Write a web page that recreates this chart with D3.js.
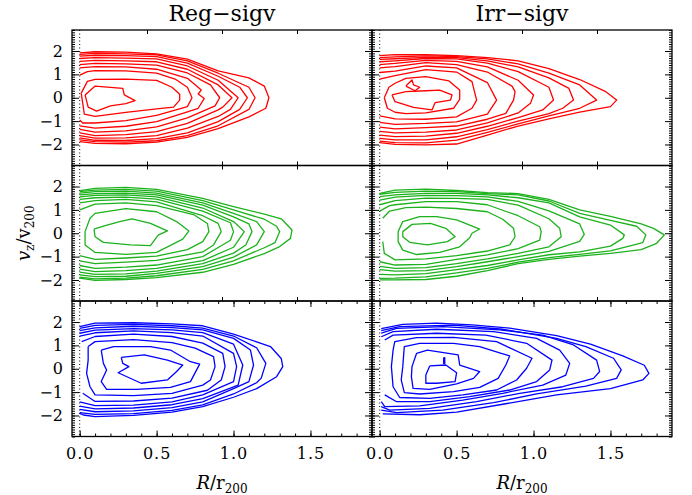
<!DOCTYPE html>
<html>
<head>
<meta charset="utf-8">
<script src="https://cdn.jsdelivr.net/npm/d3@7"></script>
<style>
  body { margin: 0; background: #fff; }
  text { font-family: "DejaVu Serif", serif; fill: #000; }
</style>
</head>
<body>
<div id="chart"></div>
<script>
var svgWidth = 692;
var svgHeight = 495;

var margin = { top: 30, left: 72 };
var panelWidth = 300;
var panelHeight = 135.5;

// column titles and row colours
var columnTitles = ["Reg\u2212sigv", "Irr\u2212sigv"];
var rowColors = ["#ff0000", "#1cb21c", "#0000ff"];

// tick values
var xTicks = [0.0, 0.5, 1.0, 1.5];
var xTicksUpper = [0.5, 1.0, 1.5];
var yTicks = [-2, -1, 0, 1, 2];

// contour lines, points are [R/r200, vz/v200]
var regRed = [
  [[0.035,0.12],[0.10,0.50],[0.28,0.40],[0.29,0.12],[0.36,-0.12],[0.30,-0.25],[0.20,-0.35],[0.11,-0.57],[0.055,-0.40],[0.035,0.12]],
  [[0.01,0.20],[0.05,0.70],[0.10,0.79],[0.30,0.80],[0.50,0.74],[0.60,0.45],[0.65,0.15],[0.65,-0.10],[0.61,-0.40],[0.50,-0.48],[0.30,-0.63],[0.10,-0.80],[0.03,-0.70],[0.01,0.20]],
  [[0,0.97],[0.05,1.12],[0.1,1.16],[0.3,1.15],[0.5,1.05],[0.62,0.80],[0.7,0.45],[0.73,0],[0.70,-0.38],[0.5,-0.75],[0.3,-0.98],[0.1,-1.08],[0.02,-1.08],[0,-0.95]],
  [[0,1.28],[0.1,1.33],[0.3,1.32],[0.5,1.22],[0.7,0.83],[0.76,0.50],[0.79,0.33],[0.77,0.16],[0.81,-0.03],[0.77,-0.45],[0.7,-0.60],[0.5,-1.02],[0.3,-1.22],[0.1,-1.30],[0,-1.20]],
  [[0,1.42],[0.1,1.47],[0.3,1.45],[0.5,1.40],[0.7,1.06],[0.85,0.55],[0.91,0],[0.88,-0.35],[0.7,-0.86],[0.5,-1.25],[0.3,-1.42],[0.1,-1.47],[0,-1.35]],
  [[0,1.56],[0.1,1.60],[0.3,1.58],[0.5,1.54],[0.7,1.22],[0.9,0.55],[0.99,0],[0.93,-0.40],[0.9,-0.52],[0.7,-1.10],[0.5,-1.45],[0.3,-1.58],[0.1,-1.62],[0,-1.50]],
  [[0,1.68],[0.1,1.72],[0.3,1.70],[0.5,1.66],[0.7,1.36],[0.9,0.75],[1.03,0],[0.98,-0.50],[0.9,-0.80],[0.7,-1.30],[0.5,-1.62],[0.3,-1.72],[0.1,-1.73],[0,-1.62]],
  [[0,1.78],[0.1,1.82],[0.3,1.80],[0.5,1.76],[0.7,1.48],[0.9,0.92],[1.04,0.45],[1.09,0],[1.04,-0.50],[0.9,-1.02],[0.7,-1.50],[0.5,-1.75],[0.3,-1.83],[0.1,-1.82],[0,-1.72]],
  [[0,1.86],[0.1,1.90],[0.3,1.88],[0.5,1.84],[0.7,1.58],[0.9,1.05],[1.1,0.45],[1.14,0],[1.1,-0.50],[0.9,-1.20],[0.7,-1.62],[0.5,-1.84],[0.3,-1.90],[0.1,-1.88],[0,-1.80]],
  [[0,1.92],[0.1,1.97],[0.3,1.95],[0.5,1.88],[0.7,1.65],[0.9,1.15],[1.1,0.85],[1.2,0.50],[1.23,0],[1.21,-0.45],[1.1,-0.82],[0.9,-1.32],[0.7,-1.70],[0.5,-1.90],[0.3,-1.97],[0.1,-1.95],[0,-1.88]]
];

var irrRed = [
  [[0.08,0.12],[0.17,0.26],[0.30,0.30],[0.39,0.33],[0.47,0.12],[0.46,-0.10],[0.36,-0.21],[0.34,-0.52],[0.22,-0.41],[0.10,-0.17],[0.08,0.12]],
  [[0.17,0.50],[0.21,0.76],[0.22,0.55],[0.26,0.45],[0.23,0.30],[0.17,0.50]],
  [[0.03,0],[0.06,0.45],[0.1,0.62],[0.17,0.83],[0.3,0.90],[0.45,0.72],[0.52,0.33],[0.52,-0.07],[0.48,-0.45],[0.3,-0.65],[0.17,-0.68],[0.1,-0.62],[0.05,-0.45],[0.03,0]],
  [[0,0.80],[0.1,0.95],[0.3,1.20],[0.5,1.10],[0.6,0.69],[0.63,-0.10],[0.6,-0.45],[0.5,-0.82],[0.3,-0.92],[0.1,-0.90],[0,-0.78]],
  [[0,1.08],[0.1,1.14],[0.3,1.36],[0.5,1.28],[0.7,0.65],[0.76,-0.10],[0.7,-0.70],[0.5,-1.03],[0.3,-1.10],[0.1,-1.14],[0,-1.05]],
  [[0,1.28],[0.1,1.33],[0.3,1.50],[0.5,1.42],[0.7,1.10],[0.86,0.50],[0.88,0.26],[0.87,-0.10],[0.82,-0.67],[0.7,-0.92],[0.5,-1.21],[0.3,-1.28],[0.1,-1.33],[0,-1.26]],
  [[0,1.42],[0.1,1.47],[0.3,1.60],[0.5,1.56],[0.7,1.32],[0.9,0.75],[1.0,0.12],[0.98,-0.24],[0.9,-0.65],[0.7,-1.08],[0.5,-1.38],[0.3,-1.47],[0.1,-1.50],[0,-1.44]],
  [[0,1.54],[0.1,1.58],[0.3,1.68],[0.5,1.66],[0.7,1.48],[0.9,1.12],[1.1,0.45],[1.13,-0.10],[1.06,-0.52],[0.9,-0.85],[0.7,-1.22],[0.5,-1.52],[0.3,-1.64],[0.1,-1.66],[0,-1.60]],
  [[0,1.64],[0.1,1.67],[0.3,1.73],[0.5,1.72],[0.7,1.58],[0.9,1.32],[1.1,0.85],[1.23,0.40],[1.26,-0.10],[1.19,-0.45],[1.1,-0.68],[0.9,-1.0],[0.7,-1.36],[0.5,-1.67],[0.3,-1.80],[0.1,-1.80],[0,-1.74]],
  [[0,1.72],[0.1,1.75],[0.3,1.79],[0.5,1.76],[0.7,1.66],[0.9,1.45],[1.1,1.05],[1.3,0.55],[1.41,-0.10],[1.3,-0.45],[1.1,-0.78],[0.9,-1.12],[0.7,-1.48],[0.5,-1.81],[0.3,-1.93],[0.1,-1.92],[0,-1.86]],
  [[0,1.80],[0.1,1.85],[0.3,1.84],[0.5,1.80],[0.7,1.72],[0.9,1.58],[1.1,1.25],[1.3,0.78],[1.47,0.26],[1.54,-0.10],[1.50,-0.38],[1.3,-0.62],[1.1,-0.90],[0.9,-1.21],[0.7,-1.60],[0.5,-1.98],[0.3,-2.02],[0.1,-2.0],[0,-1.92]]
];

var regGreen = [
  [[0.093,0.18],[0.154,0.30],[0.26,0.50],[0.34,0.62],[0.46,0.42],[0.57,0.10],[0.51,-0.08],[0.46,-0.53],[0.33,-0.50],[0.154,-0.39],[0.10,-0.15],[0.093,0.18]],
  [[0.035,0.07],[0.067,0.64],[0.1,0.85],[0.3,1.05],[0.5,0.92],[0.63,0.50],[0.71,0.10],[0.67,-0.25],[0.5,-0.82],[0.3,-0.90],[0.1,-0.82],[0.035,-0.50],[0.035,0.07]],
  [[0,1.0],[0.1,1.25],[0.3,1.30],[0.5,1.18],[0.74,0.80],[0.83,0.42],[0.84,0.07],[0.80,-0.36],[0.7,-0.70],[0.5,-0.98],[0.3,-1.06],[0.1,-1.12],[0,-0.96]],
  [[0,1.30],[0.1,1.40],[0.3,1.45],[0.5,1.34],[0.8,0.75],[0.9,0.42],[0.92,0.07],[0.87,-0.50],[0.8,-0.80],[0.5,-1.16],[0.3,-1.24],[0.1,-1.30],[0,-1.18]],
  [[0,1.45],[0.1,1.52],[0.3,1.55],[0.5,1.46],[0.8,0.95],[0.98,0.45],[1.0,0.07],[0.98,-0.30],[0.8,-1.0],[0.5,-1.36],[0.3,-1.45],[0.1,-1.50],[0,-1.38]],
  [[0,1.56],[0.1,1.62],[0.3,1.64],[0.5,1.56],[0.8,1.08],[1.0,0.50],[1.07,0.07],[1.0,-0.60],[0.8,-1.17],[0.5,-1.50],[0.3,-1.60],[0.1,-1.64],[0,-1.54]],
  [[0,1.64],[0.1,1.70],[0.3,1.72],[0.5,1.64],[0.8,1.20],[1.0,0.70],[1.1,0.40],[1.12,0.07],[1.08,-0.50],[1.0,-0.85],[0.8,-1.30],[0.5,-1.62],[0.3,-1.74],[0.1,-1.76],[0,-1.66]],
  [[0,1.72],[0.1,1.78],[0.3,1.80],[0.5,1.72],[0.8,1.30],[1.0,0.85],[1.15,0.50],[1.20,0.07],[1.15,-0.50],[1.0,-1.02],[0.8,-1.43],[0.5,-1.72],[0.3,-1.84],[0.1,-1.86],[0,-1.78]],
  [[0,1.78],[0.1,1.85],[0.3,1.88],[0.5,1.80],[0.8,1.40],[1.0,1.0],[1.2,0.60],[1.28,0.30],[1.30,0.07],[1.27,-0.40],[1.2,-0.62],[1.0,-1.18],[0.8,-1.55],[0.5,-1.82],[0.3,-1.92],[0.1,-1.95],[0,-1.88]],
  [[0,1.82],[0.1,1.92],[0.3,1.96],[0.5,1.88],[0.8,1.49],[1.0,1.14],[1.2,0.82],[1.31,0.62],[1.38,0.14],[1.37,-0.22],[1.30,-0.57],[1.2,-0.87],[1.0,-1.33],[0.8,-1.67],[0.5,-1.90],[0.3,-1.98],[0.1,-2.02],[0,-1.92]]
];

var irrGreen = [
  [[0.15,0.07],[0.21,0.38],[0.33,0.42],[0.43,0.21],[0.49,-0.15],[0.44,-0.36],[0.31,-0.50],[0.195,-0.39],[0.15,-0.15],[0.15,0.07]],
  [[0.12,0.07],[0.15,0.50],[0.26,0.71],[0.37,0.71],[0.50,0.57],[0.65,0.18],[0.60,0],[0.585,-0.19],[0.52,-0.58],[0.39,-0.82],[0.24,-0.91],[0.15,-0.72],[0.12,-0.36],[0.12,0.07]],
  [[0.02,0.64],[0.065,0.95],[0.17,1.10],[0.3,1.12],[0.5,1.06],[0.7,0.92],[0.8,0.60],[0.87,0.21],[0.88,-0.15],[0.845,-0.50],[0.7,-0.76],[0.5,-0.96],[0.3,-1.10],[0.1,-1.14],[0.03,-0.86],[0.02,-0.36]],
  [[0,0.95],[0.065,1.18],[0.1,1.22],[0.3,1.35],[0.5,1.35],[0.7,1.22],[0.9,0.75],[1.04,0.28],[1.05,0.07],[1.04,-0.29],[0.9,-0.66],[0.7,-0.93],[0.5,-1.12],[0.3,-1.33],[0.1,-1.36],[0,-1.22]],
  [[0,1.22],[0.1,1.40],[0.3,1.50],[0.5,1.49],[0.7,1.45],[0.9,1.20],[1.1,0.62],[1.17,0.21],[1.18,-0.15],[1.1,-0.58],[0.9,-0.86],[0.7,-1.10],[0.5,-1.30],[0.3,-1.47],[0.1,-1.50],[0,-1.42]],
  [[0,1.42],[0.1,1.55],[0.3,1.62],[0.5,1.61],[0.7,1.56],[0.9,1.36],[1.1,0.96],[1.3,0.40],[1.33,-0.05],[1.3,-0.35],[1.1,-0.78],[0.9,-1.0],[0.7,-1.22],[0.5,-1.43],[0.3,-1.60],[0.1,-1.62],[0,-1.56]],
  [[0,1.57],[0.1,1.64],[0.3,1.71],[0.5,1.71],[0.7,1.64],[0.9,1.52],[1.1,1.30],[1.3,0.70],[1.5,0.35],[1.59,-0.07],[1.58,-0.22],[1.5,-0.55],[1.3,-0.80],[1.1,-0.92],[0.9,-1.14],[0.7,-1.38],[0.5,-1.56],[0.3,-1.73],[0.1,-1.78],[0,-1.76]],
  [[0,1.67],[0.1,1.75],[0.3,1.80],[0.5,1.78],[0.7,1.70],[0.9,1.64],[1.1,1.38],[1.3,0.85],[1.5,0.55],[1.67,0.30],[1.73,-0.07],[1.71,-0.40],[1.5,-0.75],[1.3,-0.90],[1.1,-1.04],[0.9,-1.24],[0.7,-1.50],[0.5,-1.70],[0.3,-1.87],[0.1,-1.92],[0,-1.93]],
  [[0,1.71],[0.1,1.85],[0.3,1.89],[0.5,1.83],[0.7,1.74],[0.9,1.70],[1.1,1.45],[1.3,1.0],[1.5,0.72],[1.7,0.40],[1.78,0.21],[1.85,-0.07],[1.80,-0.43],[1.7,-0.70],[1.5,-0.86],[1.3,-0.98],[1.1,-1.12],[0.9,-1.30],[0.7,-1.60],[0.5,-1.84],[0.3,-1.98],[0.1,-2.0],[0,-2.0]]
];

var regBlue = [
  [[0.27,0.49],[0.42,0.59],[0.57,0.37],[0.67,0.16],[0.63,-0.12],[0.57,-0.48],[0.40,-0.62],[0.25,-0.17],[0.32,0.09],[0.28,0.23],[0.27,0.49]],
  [[0.14,0.80],[0.22,0.95],[0.46,0.95],[0.59,0.80],[0.72,0.30],[0.78,0.20],[0.76,-0.05],[0.72,-0.55],[0.59,-0.80],[0.37,-0.88],[0.175,-0.88],[0.14,-0.55],[0.175,-0.05],[0.154,0.23],[0.14,0.80]],
  [[0.055,0.95],[0.1,1.16],[0.35,1.25],[0.6,1.12],[0.75,0.88],[0.87,0.52],[0.88,0.09],[0.85,-0.48],[0.8,-0.70],[0.6,-1.05],[0.35,-1.15],[0.1,-1.12],[0.067,-0.77],[0.045,-0.20],[0.055,0.37],[0.055,0.95]],
  [[0.013,1.16],[0.1,1.38],[0.35,1.48],[0.6,1.38],[0.8,1.10],[0.93,0.66],[0.945,0.09],[0.92,-0.48],[0.83,-0.92],[0.6,-1.26],[0.35,-1.38],[0.1,-1.40],[0.02,-1.05]],
  [[0,1.40],[0.1,1.54],[0.35,1.62],[0.6,1.55],[0.8,1.40],[1.0,0.66],[1.02,0.09],[1.0,-0.55],[0.8,-1.12],[0.6,-1.42],[0.35,-1.56],[0.1,-1.58],[0,-1.42]],
  [[0,1.52],[0.1,1.65],[0.35,1.72],[0.6,1.66],[0.8,1.55],[1.0,1.05],[1.06,0.16],[1.03,-0.70],[0.8,-1.28],[0.6,-1.54],[0.35,-1.68],[0.1,-1.72],[0,-1.60]],
  [[0,1.63],[0.1,1.75],[0.35,1.82],[0.6,1.76],[0.8,1.66],[1.0,1.30],[1.11,0.80],[1.13,0.16],[1.1,-0.55],[1.0,-0.85],[0.8,-1.42],[0.6,-1.66],[0.35,-1.80],[0.1,-1.84],[0,-1.74]],
  [[0,1.73],[0.1,1.86],[0.35,1.90],[0.6,1.84],[0.8,1.74],[1.0,1.40],[1.15,0.90],[1.21,0.23],[1.18,-0.40],[1.15,-0.60],[1.0,-1.08],[0.8,-1.55],[0.6,-1.78],[0.35,-1.92],[0.1,-1.95],[0,-1.88]],
  [[0,1.80],[0.1,1.95],[0.35,1.97],[0.6,1.92],[0.8,1.84],[1.0,1.48],[1.15,1.15],[1.24,0.95],[1.31,0.44],[1.32,0.09],[1.28,-0.34],[1.15,-0.85],[1.0,-1.22],[0.8,-1.62],[0.6,-1.86],[0.35,-2.0],[0.1,-2.05],[0.024,-1.98],[0,-1.91]]
];

var irrBlue = [
  [[0.325,0.12],[0.43,0.16],[0.50,-0.17],[0.49,-0.55],[0.37,-0.62],[0.30,-0.62],[0.30,-0.27],[0.325,0.12]],
  [[0.416,0.48],[0.423,0.48],[0.423,0.23],[0.416,0.23],[0.416,0.48]],
  [[0.21,0.09],[0.24,0.66],[0.31,0.80],[0.51,0.59],[0.52,0.16],[0.65,-0.12],[0.61,-0.41],[0.50,-0.65],[0.325,-0.88],[0.217,-0.84],[0.206,-0.34],[0.21,0.09]],
  [[0.15,0.09],[0.16,0.95],[0.26,1.09],[0.48,1.09],[0.65,0.95],[0.79,0.66],[0.845,0.55],[0.82,0.16],[0.77,-0.41],[0.65,-0.80],[0.48,-0.98],[0.26,-1.08],[0.16,-1.02],[0.14,-0.48],[0.15,0.09]],
  [[0.087,0.80],[0.098,1.16],[0.24,1.33],[0.48,1.34],[0.76,1.16],[0.99,0.45],[0.955,0.02],[0.89,-0.48],[0.76,-0.91],[0.54,-1.12],[0.325,-1.27],[0.13,-1.23],[0.087,-0.77],[0.076,0.09],[0.087,0.80]],
  [[0.033,1.23],[0.087,1.44],[0.37,1.52],[0.69,1.44],[0.955,1.09],[1.12,0.37],[1.105,-0.05],[1.02,-0.55],[0.845,-0.91],[0.585,-1.19],[0.325,-1.41],[0.11,-1.41],[0.033,-1.12]],
  [[0.01,1.37],[0.087,1.59],[0.37,1.69],[0.74,1.59],[1.02,1.30],[1.17,0.80],[1.235,0.23],[1.21,-0.27],[1.06,-0.70],[0.80,-1.05],[0.54,-1.34],[0.26,-1.59],[0.033,-1.62],[0.01,-1.41]],
  [[0.01,1.52],[0.11,1.73],[0.41,1.80],[0.78,1.66],[1.06,1.44],[1.26,1.02],[1.41,0.37],[1.43,-0.12],[1.39,-0.41],[1.19,-0.77],[0.91,-1.05],[0.63,-1.41],[0.325,-1.70],[0.065,-1.77],[0.01,-1.62]],
  [[0.01,1.63],[0.13,1.80],[0.48,1.87],[0.80,1.69],[1.15,1.30],[1.34,0.95],[1.52,0.45],[1.57,-0.05],[1.54,-0.41],[1.34,-0.74],[1.02,-1.08],[0.74,-1.45],[0.41,-1.77],[0.11,-1.88],[0.01,-1.77]],
  [[0.01,1.72],[0.15,1.90],[0.37,1.95],[0.6,1.88],[0.845,1.74],[1.15,1.42],[1.37,1.05],[1.58,0.55],[1.72,0.15],[1.75,-0.20],[1.71,-0.48],[1.50,-0.85],[1.15,-1.12],[0.80,-1.52],[0.50,-1.86],[0.26,-1.97],[0.02,-1.93]]
];

var panels = [
  { row: 0, col: 0, contours: regRed },
  { row: 0, col: 1, contours: irrRed },
  { row: 1, col: 0, contours: regGreen },
  { row: 1, col: 1, contours: irrGreen },
  { row: 2, col: 0, contours: regBlue },
  { row: 2, col: 1, contours: irrBlue }
];

var svg = d3.select("#chart")
  .append("svg")
  .attr("width", svgWidth)
  .attr("height", svgHeight);

// scales
var x = d3.scaleLinear().domain([-0.05, 1.9]).range([0, panelWidth]);
// the upper rows carry their frame ticks on a 0..2 axis
var xUpper = d3.scaleLinear().domain([0, 2]).range([0, panelWidth]);
var y = d3.scaleLinear().domain([-2.9, 2.9]).range([panelHeight, 0]);

var xMinor = d3.range(0, 19).map(d => d / 10);
var yMinor = d3.range(-29, 30).map(d => d / 10);

var contourLine = d3.line()
  .x(d => x(d[0]))
  .y(d => y(d[1]));

function noDomain(g) {
  g.select(".domain").remove();
}

// inward ticks on all four sides of a panel
function drawTicks(g, row) {
  g.append("g").call(d3.axisRight(y).tickValues(yMinor).tickSize(3).tickFormat("")).call(noDomain);
  g.append("g").call(d3.axisRight(y).tickValues(yTicks).tickSize(7).tickFormat("")).call(noDomain);
  g.append("g").attr("transform", `translate(${panelWidth},0)`)
    .call(d3.axisLeft(y).tickValues(yMinor).tickSize(3).tickFormat("")).call(noDomain);
  g.append("g").attr("transform", `translate(${panelWidth},0)`)
    .call(d3.axisLeft(y).tickValues(yTicks).tickSize(7).tickFormat("")).call(noDomain);

  if (row === 2) {
    g.append("g").attr("transform", `translate(0,${panelHeight})`)
      .call(d3.axisTop(x).tickValues(xMinor).tickSize(3).tickFormat("")).call(noDomain);
    g.append("g").attr("transform", `translate(0,${panelHeight})`)
      .call(d3.axisTop(x).tickValues(xTicks).tickSize(6).tickFormat("")).call(noDomain);
    g.append("g")
      .call(d3.axisBottom(x).tickValues(xMinor).tickSize(3).tickFormat("")).call(noDomain);
    g.append("g")
      .call(d3.axisBottom(x).tickValues(xTicks).tickSize(6).tickFormat("")).call(noDomain);
  }
  else {
    g.append("g").attr("transform", `translate(0,${panelHeight})`)
      .call(d3.axisTop(xUpper).tickValues(xTicksUpper).tickSize(4).tickFormat("")).call(noDomain);
    g.append("g")
      .call(d3.axisBottom(xUpper).tickValues(xTicksUpper).tickSize(4).tickFormat("")).call(noDomain);
  }
  g.selectAll(".tick line").attr("stroke-width", 1);
}

panels.forEach(function(p) {
  var g = svg.append("g")
    .attr("transform", `translate(${margin.left + p.col * panelWidth}, ${margin.top + p.row * panelHeight})`);

  // dotted line at R = 0
  g.append("line")
    .attr("x1", x(0)).attr("x2", x(0))
    .attr("y1", 0).attr("y2", panelHeight)
    .attr("stroke", "#000")
    .attr("stroke-width", 1)
    .attr("stroke-dasharray", "1,2.5");

  g.selectAll("path.contour")
    .data(p.contours)
    .enter()
    .append("path")
    .attr("class", "contour")
    .attr("d", contourLine)
    .attr("fill", "none")
    .attr("stroke", rowColors[p.row])
    .attr("stroke-width", 1.3)
    .attr("stroke-linejoin", "round");

  drawTicks(g, p.row);

  g.append("rect")
    .attr("width", panelWidth)
    .attr("height", panelHeight)
    .attr("fill", "none")
    .attr("stroke", "#000")
    .attr("stroke-width", 1.3);

  // tick labels
  if (p.col === 0) {
    var yLab = g.append("g")
      .call(d3.axisLeft(y).tickValues(yTicks).tickSize(0).tickPadding(9).tickFormat(d3.format("d")))
      .call(noDomain);
    yLab.attr("font-family", null).attr("font-size", null);
    yLab.selectAll("text").style("font-size", "16px");
  }
  if (p.row === 2) {
    var xLab = g.append("g")
      .attr("transform", `translate(0,${panelHeight})`)
      .call(d3.axisBottom(x).tickValues(xTicks).tickSize(0).tickPadding(11).tickFormat(d3.format(".1f")))
      .call(noDomain);
    xLab.attr("font-family", null).attr("font-size", null);
    xLab.selectAll("text").style("font-size", "16px").style("letter-spacing", "1px");

    var xt = svg.append("text")
      .attr("x", margin.left + p.col * panelWidth + panelWidth / 2)
      .attr("y", 489)
      .attr("text-anchor", "middle")
      .style("font-size", "18px");
    xt.append("tspan").style("font-style", "italic").text("R");
    xt.append("tspan").text("/r");
    xt.append("tspan").attr("dy", 4).style("font-size", "12px").text("200");
  }
});

// column titles
svg.selectAll("text.title")
  .data(columnTitles)
  .enter()
  .append("text")
  .attr("class", "title")
  .attr("x", (d, i) => margin.left + i * panelWidth + panelWidth / 2)
  .attr("y", 21)
  .attr("text-anchor", "middle")
  .style("font-size", "22px")
  .text(d => d);

// y axis title
var yt = svg.append("text")
  .attr("transform", `translate(30, ${margin.top + 1.5 * panelHeight}) rotate(-90)`)
  .attr("text-anchor", "middle")
  .style("font-size", "18px");
yt.append("tspan").style("font-style", "italic").text("v");
yt.append("tspan").attr("dy", 4).style("font-size", "12px").text("z");
yt.append("tspan").attr("dy", -4).text("/v");
yt.append("tspan").attr("dy", 4).style("font-size", "12px").text("200");
</script>
</body>
</html>
